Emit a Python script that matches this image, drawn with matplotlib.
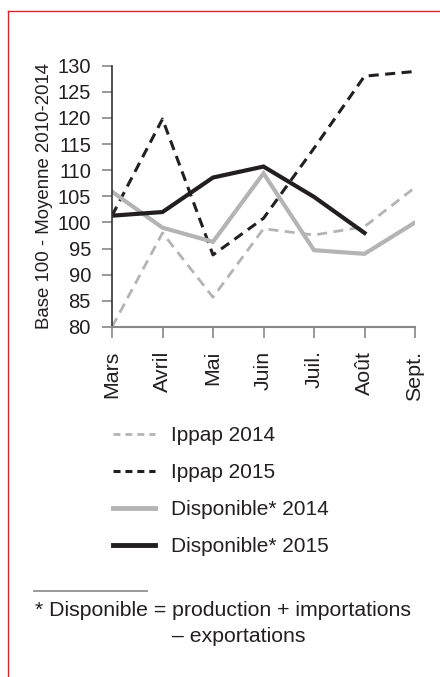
import matplotlib
matplotlib.use("Agg")
import matplotlib.pyplot as plt
from matplotlib.lines import Line2D

plt.rcParams['font.family'] = ['Liberation Sans', 'DejaVu Sans']

months = ["Mars", "Avril", "Mai", "Juin", "Juil.", "Août", "Sept."]
ippap_2014 = [80.0, 98.0, 85.7, 98.8, 97.6, 99.2, 106.7]
ippap_2015 = [101.3, 119.8, 93.8, 100.8, 114.2, 128.0, 128.9]
dispo_2014 = [105.9, 99.0, 96.3, 109.4, 94.7, 94.0, 100.0]
dispo_2015 = [101.3, 102.0, 108.6, 110.7, 104.9, 98.0]
yticks = [80, 85, 90, 95, 100, 105, 110, 115, 120, 125, 130]

W, H = 440, 677
fig = plt.figure(figsize=(W / 100, H / 100), dpi=100)

txt = "#231f20"
light = "#b4b4b4"

ax = fig.add_axes([112 / W, 1 - 327 / H, (415 - 112) / W, (327 - 65.7) / H])
x = list(range(len(months)))
l1, = ax.plot(x, ippap_2014, color=light, lw=2.0, dashes=(3.6, 2.3), label="Ippap 2014")
l2, = ax.plot(x, ippap_2015, color=txt, lw=2.2, dashes=(3.3, 2.1), label="Ippap 2015")
l3, = ax.plot(x, dispo_2014, color=light, lw=3.0, label="Disponible* 2014", solid_joinstyle='miter')
l4, = ax.plot(x[:len(dispo_2015)], dispo_2015, color=txt, lw=3.0, label="Disponible* 2015", solid_joinstyle='miter')

ax.set_xlim(0, 6)
ax.set_ylim(80, 130)
ax.set_yticks(yticks)
ax.set_xticks(x)
ax.set_xticklabels(months, rotation=90, fontsize=15.4, color=txt)
ax.tick_params(axis='y', labelsize=14.5, labelcolor=txt, length=7.2, width=1.2, color="#888888", direction='out', pad=8)
ax.tick_params(axis='x', length=8, width=1.2, color="#888888", direction='out', pad=9)
for s in ["top", "right"]:
    ax.spines[s].set_visible(False)
ax.spines["left"].set_color("#333333")
ax.spines["left"].set_linewidth(1.2)
ax.spines["bottom"].set_color("#888888")
ax.spines["bottom"].set_linewidth(1.5)
ax.set_ylabel("Base 100 - Moyenne 2010-2014", fontsize=13.4, color=txt)
ax.yaxis.set_label_coords((53 - 112) / 303, 0.5)
ax.patch.set_visible(False)

# legend with short handles
h1 = Line2D([], [], color=light, lw=2.0, dashes=(2.5, 1.8))
h2 = Line2D([], [], color=txt, lw=2.2, dashes=(2.3, 1.6))
h3 = Line2D([], [], color=light, lw=3.5)
h4 = Line2D([], [], color=txt, lw=3.5)
fig.legend([h1, h2, h3, h4], [l1.get_label(), l2.get_label(), l3.get_label(), l4.get_label()],
           loc="upper left", bbox_to_anchor=(113 / W, 1 - 426 / H), frameon=False,
           fontsize=15, handlelength=2.0, handletextpad=0.77, labelspacing=0.87,
           borderpad=0, borderaxespad=0, labelcolor=txt)

# footnote separator
fig.add_artist(Line2D([34 / W, 147 / W], [1 - 591 / H, 1 - 591 / H], color="#888888", lw=1.2))
fig.text(35 / W, 1 - 611 / H, "* Disponible = production + importations", fontsize=15.3,
         color=txt, va="center", ha="left")
fig.text(172 / W, 1 - 637 / H, "– exportations", fontsize=15.3, color=txt, va="center", ha="left")

# red frame
red = "#d7262b"
fig.add_artist(Line2D([8.3 / W, 8.3 / W], [0, 1 - 10.7 / H], color=red, lw=1.0))
fig.add_artist(Line2D([8.3 / W, 1], [1 - 10.7 / H, 1 - 10.7 / H], color=red, lw=1.0))

fig.savefig("out.png", dpi=100)
